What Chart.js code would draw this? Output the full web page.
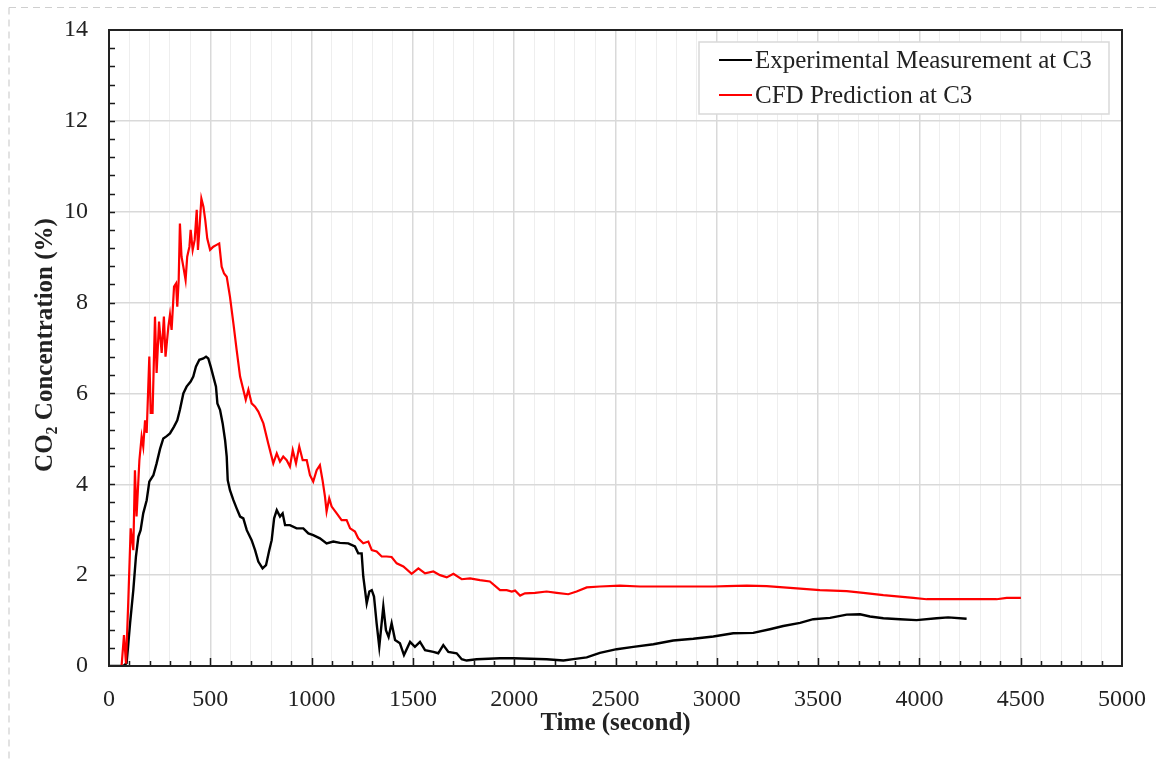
<!DOCTYPE html>
<html>
<head>
<meta charset="utf-8">
<script src="https://cdn.jsdelivr.net/npm/chart.js@4/dist/chart.umd.min.js"></script>
<style>
  html, body { margin: 0; padding: 0; background: #fff; }
  canvas { display: block; }
</style>
</head>
<body>
<canvas id="chart" width="1161" height="761"></canvas>
<script>
// Measured CO2 concentration at sensor C3 (time in s, concentration in %)
const expTime = [0, 71, 87, 104, 120, 133, 145, 156, 169, 186, 199, 219, 235, 252, 268, 285, 301, 321, 337, 350,
  367, 383, 403, 416, 429, 446, 466, 479, 490, 502, 515, 528, 535, 548, 561, 573, 581, 586, 597, 614,
  630, 647, 663, 680, 704, 721, 737, 758, 775, 791, 803, 815, 828, 844, 857, 869, 893, 926, 959, 984,
  1008, 1041, 1074, 1107, 1140, 1181, 1214, 1230, 1247, 1255, 1272, 1285, 1297, 1308, 1321, 1334, 1354, 1367, 1380, 1395,
  1412, 1436, 1456, 1486, 1510, 1535, 1560, 1601, 1625, 1650, 1675, 1716, 1741, 1765, 1815, 1930, 1996, 2160, 2243, 2292,
  2358, 2423, 2506, 2588, 2687, 2785, 2884, 2983, 3081, 3180, 3262, 3328, 3411, 3476, 3559, 3641, 3707, 3756, 3822, 3904,
  3986, 4085, 4142, 4233];
const expCO2 = [0, 0, 0.06, 0.94, 1.67, 2.41, 2.85, 2.99, 3.36, 3.65, 4.06, 4.20, 4.46, 4.78, 5.01, 5.06, 5.12, 5.27, 5.41, 5.64,
  6.00, 6.15, 6.26, 6.37, 6.59, 6.74, 6.77, 6.81, 6.77, 6.59, 6.37, 6.15, 5.78, 5.64, 5.34, 4.97, 4.61, 4.09, 3.87, 3.65,
  3.47, 3.29, 3.25, 2.99, 2.77, 2.55, 2.30, 2.15, 2.22, 2.55, 2.77, 3.25, 3.43, 3.29, 3.36, 3.10, 3.10, 3.03, 3.03, 2.92,
  2.88, 2.81, 2.70, 2.74, 2.71, 2.70, 2.63, 2.48, 2.48, 1.97, 1.38, 1.64, 1.67, 1.53, 0.94, 0.42, 1.31, 0.79, 0.64, 0.94,
  0.57, 0.50, 0.24, 0.53, 0.42, 0.53, 0.35, 0.31, 0.28, 0.46, 0.31, 0.28, 0.15, 0.12, 0.15, 0.17, 0.17, 0.15, 0.12, 0.15,
  0.19, 0.29, 0.37, 0.42, 0.48, 0.56, 0.60, 0.65, 0.72, 0.73, 0.81, 0.88, 0.95, 1.03, 1.06, 1.13, 1.14, 1.09, 1.05, 1.03,
  1.01, 1.05, 1.07, 1.04];

// CFD-predicted CO2 concentration at C3
const cfdTime = [0, 62, 74, 84, 95, 107, 120, 128, 136, 150, 161, 169, 178, 186, 199, 206, 215, 227, 235, 247,
  260, 271, 279, 293, 301, 309, 321, 331, 337, 344, 350, 358, 367, 378, 386, 397, 403, 413, 423, 433,
  439, 446, 456, 466, 475, 485, 499, 515, 531, 544, 556, 568, 581, 597, 614, 630, 647, 663, 675, 688,
  704, 721, 737, 762, 786, 811, 828, 844, 860, 877, 893, 907, 923, 939, 956, 976, 992, 1008, 1025, 1041,
  1054, 1066, 1074, 1087, 1099, 1124, 1148, 1173, 1190, 1214, 1230, 1255, 1280, 1297, 1321, 1346, 1370, 1395, 1420, 1453,
  1494, 1527, 1560, 1601, 1634, 1667, 1700, 1741, 1782, 1831, 1880, 1930, 1963, 1988, 2004, 2029, 2053, 2103, 2160, 2210,
  2267, 2308, 2358, 2423, 2522, 2621, 2818, 2983, 3049, 3148, 3246, 3395, 3509, 3641, 3723, 3822, 3970, 4036, 4381, 4431,
  4501];
const cfdCO2 = [0, 0, 0.68, 0.05, 1.40, 3.03, 2.55, 4.31, 3.29, 4.53, 5.05, 4.83, 5.41, 5.13, 6.81, 5.57, 5.57, 7.69, 6.45, 7.58,
  6.89, 7.69, 6.81, 7.47, 7.73, 7.40, 8.35, 8.42, 7.91, 8.50, 9.74, 9.01, 8.79, 8.50, 9.01, 9.23, 9.60, 9.16, 9.38, 10.04,
  9.16, 9.60, 10.29, 10.11, 9.82, 9.41, 9.16, 9.23, 9.27, 9.30, 8.79, 8.64, 8.57, 8.13, 7.54, 6.96, 6.37, 6.08, 5.86, 6.08,
  5.78, 5.71, 5.60, 5.34, 4.90, 4.46, 4.68, 4.50, 4.61, 4.53, 4.39, 4.75, 4.46, 4.83, 4.53, 4.53, 4.20, 4.06, 4.31, 4.42,
  4.09, 3.73, 3.40, 3.69, 3.51, 3.36, 3.21, 3.21, 3.03, 2.96, 2.81, 2.70, 2.74, 2.55, 2.52, 2.41, 2.41, 2.40, 2.26, 2.19,
  2.03, 2.15, 2.04, 2.08, 2.00, 1.95, 2.03, 1.91, 1.93, 1.89, 1.86, 1.67, 1.67, 1.64, 1.66, 1.55, 1.60, 1.61, 1.64, 1.61,
  1.58, 1.64, 1.73, 1.75, 1.77, 1.75, 1.75, 1.75, 1.76, 1.77, 1.76, 1.71, 1.67, 1.65, 1.61, 1.56, 1.50, 1.47, 1.47, 1.50,
  1.50];

const seriesLabels = ['Experimental Measurement at C3', 'CFD Prediction at C3'];
const seriesColors = ['#000000', '#ff0000'];
const xTickLabels = [0, 500, 1000, 1500, 2000, 2500, 3000, 3500, 4000, 4500, 5000];
const yTickLabels = [0, 2, 4, 6, 8, 10, 12, 14];
const xTitle = 'Time (second)';
const yTitle = ['CO', '2', ' Concentration (%)'];

const toPoints = (xs, ys) => xs.map((x, i) => ({ x: x, y: ys[i] }));

const SERIF = '"Liberation Serif", "Times New Roman", serif';
const TEXT = '#222222';

// Fixed axis box size; label overhang stays inside the outer margins
const fixBox = (size) => (scale) => {
  if (scale.isHorizontal()) scale.height = size; else scale.width = size;
  scale.paddingTop = 0; scale.paddingBottom = 0;
  scale.paddingLeft = 0; scale.paddingRight = 0;
};

// Page frame, inside tick marks, legend and axis titles
const decorations = {
  id: 'decorations',
  beforeDraw(chart) {
    const c = chart.ctx;
    c.save();
    c.fillStyle = '#ffffff';
    c.fillRect(0, 0, chart.width, chart.height);
    c.strokeStyle = '#cfcfcf';
    c.lineWidth = 1.2;
    c.setLineDash([7, 5]);
    c.beginPath();
    c.moveTo(9, 7.5); c.lineTo(chart.width, 7.5);
    c.moveTo(9, 7.5); c.lineTo(9, chart.height);
    c.stroke();
    c.restore();
  },
  afterDatasetsDraw(chart) {
    const c = chart.ctx;
    const a = chart.chartArea;
    const xs = chart.scales.x, ys = chart.scales.y;
    c.save();
    c.strokeStyle = '#1a1a1a';
    c.lineWidth = 1.5;
    c.beginPath();
    for (let v = 100; v < 5000; v += 100) {
      const px = Math.round(xs.getPixelForValue(v)) + 0.5;
      const len = v % 500 === 0 ? 8 : 5;
      c.moveTo(px, a.bottom); c.lineTo(px, a.bottom - len);
    }
    for (let i = 1; i < 35; i++) {
      const py = Math.round(ys.getPixelForValue(i * 0.4)) + 0.5;
      c.moveTo(a.left, py); c.lineTo(a.left + 6, py);
    }
    c.stroke();
    c.lineWidth = 2;
    c.strokeStyle = '#222222';
    c.strokeRect(a.left, a.top, a.right - a.left, a.bottom - a.top);
    c.restore();
  },
  afterDraw(chart) {
    const c = chart.ctx;
    const a = chart.chartArea;
    c.save();
    // legend box
    const bx = 699, by = 42, bw = 410, bh = 72;
    c.fillStyle = '#ffffff';
    c.fillRect(bx, by, bw, bh);
    c.strokeStyle = '#d9d9d9';
    c.lineWidth = 1.5;
    c.strokeRect(bx, by, bw, bh);
    c.font = '25px ' + SERIF;
    c.textBaseline = 'middle';
    c.textAlign = 'left';
    chart.data.datasets.forEach((ds, i) => {
      const y = 60 + i * 35;
      c.strokeStyle = ds.borderColor;
      c.lineWidth = 2.2;
      c.beginPath();
      c.moveTo(719, y); c.lineTo(752, y);
      c.stroke();
      c.fillStyle = TEXT;
      c.fillText(ds.label, 755, y + 1);
    });
    // x axis title
    c.font = 'bold 25px ' + SERIF;
    c.textAlign = 'center';
    c.textBaseline = 'alphabetic';
    c.fillStyle = TEXT;
    c.fillText(xTitle, (a.left + a.right) / 2, 730);
    // y axis title with subscript
    const big = 'bold 25px ' + SERIF, small = 'bold 16px ' + SERIF;
    c.font = big; const w0 = c.measureText(yTitle[0]).width;
    c.font = small; const w1 = c.measureText(yTitle[1]).width;
    c.font = big; const w2 = c.measureText(yTitle[2]).width;
    const total = w0 + w1 + w2;
    c.translate(52, (a.top + a.bottom) / 2 - 3);
    c.rotate(-Math.PI / 2);
    c.textAlign = 'left';
    let x0 = -total / 2;
    c.font = big; c.fillText(yTitle[0], x0, 0); x0 += w0;
    c.font = small; c.fillText(yTitle[1], x0, 5); x0 += w1;
    c.font = big; c.fillText(yTitle[2], x0, 0);
    c.restore();
  }
};

new Chart(document.getElementById('chart'), {
  type: 'line',
  data: {
    datasets: [
      { label: seriesLabels[0], data: toPoints(expTime, expCO2), borderColor: seriesColors[0],
        borderWidth: 2.4, pointRadius: 0, tension: 0, order: 1 },
      { label: seriesLabels[1], data: toPoints(cfdTime, cfdCO2), borderColor: seriesColors[1],
        borderWidth: 2.2, pointRadius: 0, tension: 0, order: 0 }
    ]
  },
  options: {
    responsive: false,
    devicePixelRatio: 1,
    animation: false,
    layout: { autoPadding: false, padding: { left: 0, right: 39, top: 30, bottom: 0 } },
    plugins: { legend: { display: false }, tooltip: { enabled: false } },
    scales: {
      x: {
        type: 'linear', min: 0, max: 5000,
        afterFit: fixBox(95),
        border: { display: false },
        grid: {
          drawTicks: false,
          color: (ctx) => (ctx.tick && ctx.tick.value % 500 === 0) ? '#d9d9d9' : '#eeeeee',
          lineWidth: (ctx) => (ctx.tick && ctx.tick.value % 500 === 0) ? 1.5 : 1
        },
        ticks: {
          stepSize: 100, autoSkip: false, maxRotation: 0, padding: 19,
          color: TEXT, font: { family: SERIF, size: 24 },
          callback: (v) => xTickLabels.includes(v) ? String(v) : ''
        }
      },
      y: {
        min: 0, max: 14,
        afterFit: fixBox(109),
        border: { display: false },
        grid: { drawTicks: false, color: '#d9d9d9', lineWidth: 1.5 },
        ticks: {
          stepSize: 2, padding: 21, color: TEXT, font: { family: SERIF, size: 24 },
          callback: (v) => yTickLabels.includes(v) ? String(v) : ''
        }
      }
    }
  },
  plugins: [decorations]
});
</script>
</body>
</html>
